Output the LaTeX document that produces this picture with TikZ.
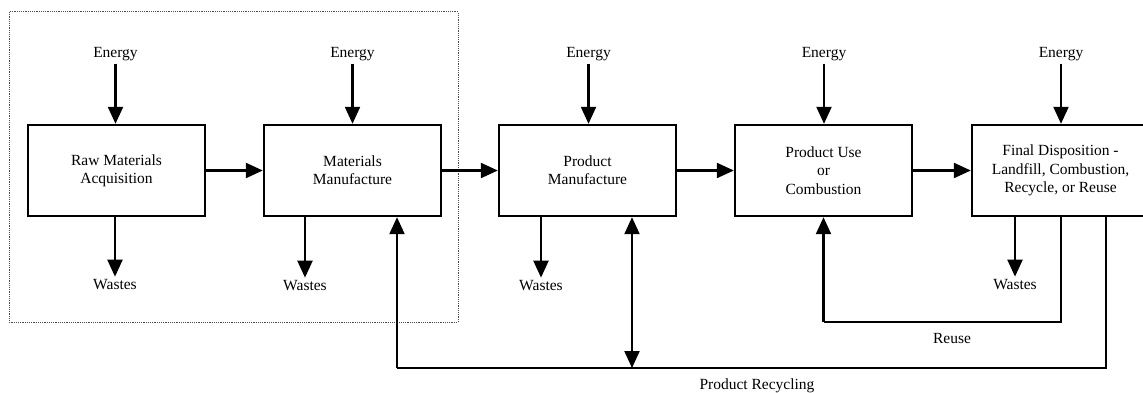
\documentclass[tikz,border=0pt]{standalone}
\usepackage{fontspec}
\setmainfont{Liberation Serif}
\usetikzlibrary{arrows.meta,calc}

\tikzset{
  stage/.style={draw, line width=2.4pt, minimum width=177pt, minimum height=91pt,
    inner sep=0pt, align=center, font=\rmfamily\fontsize{15.5}{18.3}\selectfont},
  lbl/.style={inner sep=2pt, font=\rmfamily\fontsize{15.5}{18.3}\selectfont},
  flow/.style={line width=2.2pt, -{Triangle[length=17pt,width=15pt]}},
  both/.style={line width=2.2pt, {Triangle[length=17pt,width=15pt]}-{Triangle[length=17pt,width=15pt]}},
  loop/.style={line width=2.2pt},
  boundary/.style={draw=black!70, line width=1pt, dash pattern=on 1.2pt off 1pt}
}

\begin{document}
\begin{tikzpicture}[x=1pt,y=-1pt]
\clip (0,0) rectangle (1143,393);
\fill[white] (0,0) rectangle (1143,393);

% system boundary around the first two stages
\draw[boundary] (9,12) rectangle (458,322);

% life-cycle stages
\node[stage] (b1) at (116.5,170.5) {Raw Materials\\Acquisition};
\node[stage] (b2) at (352.5,170.5) {Materials\\Manufacture};
\node[stage] (b3) at (587.5,170.5) {Product\\Manufacture};
\node[stage] (b4) at (823.5,170.5) {Product Use\\or\\Combustion};
\node[stage] (b5) at (1060.5,170.5) {Final Disposition -\\Landfill, Combustion,\\Recycle, or Reuse};

% energy inputs
\node[lbl, anchor=base] (e1) at (115.5,58) {Energy};
\node[lbl, anchor=base] (e2) at (352.5,58) {Energy};
\node[lbl, anchor=base] (e3) at (588.5,58) {Energy};
\node[lbl, anchor=base] (e4) at (824,58) {Energy};
\node[lbl, anchor=base] (e5) at (1061,58) {Energy};
\foreach \i in {1,...,5}{
  \draw[flow] (e\i.south) -- (e\i.south |- b\i.north);
}

% waste outputs
\node[lbl, anchor=base] (w1) at (115,289) {Wastes};
\node[lbl, anchor=base] (w2) at (305,290) {Wastes};
\node[lbl, anchor=base] (w3) at (541,290) {Wastes};
\node[lbl, anchor=base] (w5) at (1015,289) {Wastes};
\foreach \i in {1,2,3,5}{
  \draw[flow] (w\i.north |- b\i.south) -- (w\i.north);
}

% main flow
\draw[flow] (b1.east) -- (b2.west);
\draw[flow] (b2.east) -- (b3.west);
\draw[flow] (b3.east) -- (b4.west);
\draw[flow] (b4.east) -- (b5.west);

% reuse loop
\coordinate (ru1) at (1061,322);
\coordinate (ru2) at (823.5,322);
\draw[loop] (b5.south -| ru1) -- (ru1) -- (ru2);
\draw[flow] (ru2) -- (b4.south);
\node[lbl] (reuse) at (952,338) {Reuse};

% product recycling loop
\coordinate (rc1) at (1106,368);
\coordinate (rc2) at (397,368);
\coordinate (rc3) at (632,368);
\draw[loop] (b5.south -| rc1) -- (rc1) -- (rc2);
\draw[flow] (rc2) -- (b2.south -| rc2);
\draw[both] (b3.south -| rc3) -- (rc3);
\node[lbl] (recyc) at (757,386) {Product Recycling};

\end{tikzpicture}
\end{document}
